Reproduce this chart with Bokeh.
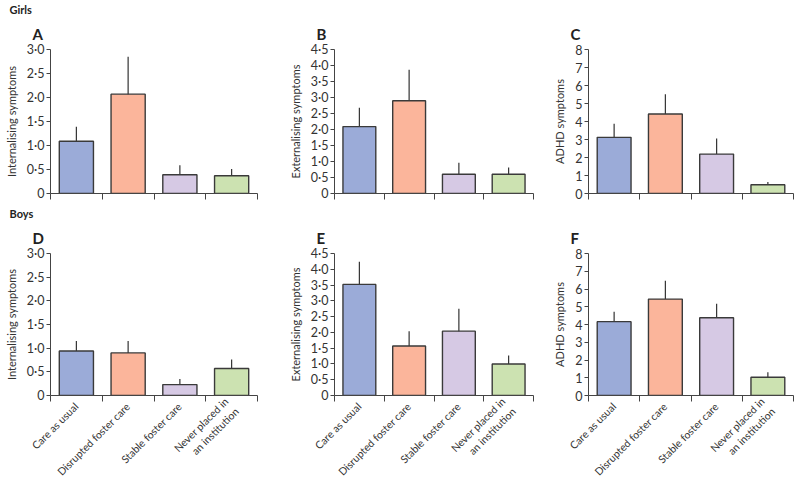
import numpy as np
from bokeh.plotting import figure
from bokeh.layouts import column, row
from bokeh.models import ColumnDataSource, Range1d, FixedTicker, Title, Whisker
from bokeh.embed import file_html
from bokeh.resources import INLINE

categories = ["Care as usual", "Disrupted foster care", "Stable foster care", "Never placed in\nan institution"]
colors = ["#9BABD8", "#FBB59B", "#D6C9E4", "#CCE2B1"]

# Girls
girls_int = [1.09, 2.07, 0.39, 0.37]
girls_int_lo = [0.79, 1.25, 0.18, 0.20]
girls_int_hi = [1.39, 2.85, 0.59, 0.51]
girls_ext = [2.09, 2.90, 0.60, 0.60]
girls_ext_lo = [1.60, 2.16, 0.30, 0.30]
girls_ext_hi = [2.68, 3.87, 0.96, 0.81]
girls_adhd = [3.12, 4.42, 2.19, 0.49]
girls_adhd_lo = [2.17, 3.14, 1.55, 0.30]
girls_adhd_hi = [3.88, 5.52, 3.06, 0.64]
# Boys
boys_int = [0.94, 0.90, 0.23, 0.57]
boys_int_lo = [0.69, 0.65, 0.10, 0.40]
boys_int_hi = [1.15, 1.15, 0.35, 0.76]
boys_ext = [3.52, 1.57, 2.04, 1.00]
boys_ext_lo = [2.75, 1.06, 1.25, 0.72]
boys_ext_hi = [4.24, 2.04, 2.75, 1.27]
boys_adhd = [4.16, 5.43, 4.38, 1.03]
boys_adhd_lo = [3.56, 4.40, 3.60, 0.71]
boys_adhd_hi = [4.72, 6.46, 5.17, 1.31]

int_ticks = [0, 0.5, 1.0, 1.5, 2.0, 2.5, 3.0]
int_labels = ["0", "0·5", "1·0", "1·5", "2·0", "2·5", "3·0"]
ext_ticks = [0, 0.5, 1.0, 1.5, 2.0, 2.5, 3.0, 3.5, 4.0, 4.5]
ext_labels = ["0", "0·5", "1·0", "1·5", "2·0", "2·5", "3·0", "3·5", "4·0", "4·5"]
adhd_ticks = [0, 1, 2, 3, 4, 5, 6, 7, 8]
adhd_labels = ["0", "1", "2", "3", "4", "5", "6", "7", "8"]

FONT = "Lato"
TXT = "#333333"


def panel(letter, ylabel, vals, lo, hi, ticks, tlabels, width, bl, br, height, bt, bb,
          show_x_labels, group=None):
    n = len(categories)
    xs = np.arange(n) + 0.5
    src = ColumnDataSource(dict(x=xs, top=vals, lo=lo, hi=hi, color=colors))
    p = figure(width=width, height=height, output_backend="svg", toolbar_location=None,
               x_range=Range1d(0, n), y_range=Range1d(0, ticks[-1]),
               min_border_left=bl, min_border_right=br, min_border_top=bt, min_border_bottom=bb,
               title=group if group is not None else letter)
    letter_kw = dict(text_font=FONT, text_font_size="15px", text_font_style="bold",
                     text_color="#222222", offset=-18, standoff=14)
    if group is not None:
        p.title.text_font = FONT
        p.title.text_font_size = "11px"
        p.title.text_font_style = "bold"
        p.title.text_color = "#222222"
        p.title.offset = -41
        p.title.standoff = 0
        p.add_layout(Title(text=letter, **letter_kw), "above")
    else:
        for k, v in letter_kw.items():
            setattr(p.title, k, v)
    p.vbar(x="x", top="top", width=0.66, bottom=0, source=src, fill_color="color",
           line_color="#3a3a3a", line_width=1.4)
    p.add_layout(Whisker(base="x", lower="lo", upper="hi", source=src, line_color="#333333",
                         line_width=1.2, upper_head=None, lower_head=None))
    p.grid.visible = False
    p.outline_line_color = None
    p.background_fill_color = "white"
    p.border_fill_color = "white"

    ya = p.yaxis[0]
    ya.ticker = FixedTicker(ticks=ticks)
    ya.major_label_overrides = {t: l for t, l in zip(ticks, tlabels)}
    ya.axis_label = ylabel
    ya.axis_label_text_font = FONT
    ya.axis_label_text_font_size = "11px"
    ya.axis_label_text_font_style = "normal"
    ya.axis_label_text_color = TXT
    ya.axis_label_standoff = 6
    ya.major_label_text_font = FONT
    ya.major_label_text_font_size = "12.5px"
    ya.major_label_text_color = TXT
    ya.major_label_standoff = 2
    ya.major_tick_out = 4
    ya.major_tick_in = 0
    ya.minor_tick_out = 0
    ya.minor_tick_in = 0
    ya.axis_line_color = "#444444"
    ya.major_tick_line_color = "#444444"

    xa = p.xaxis[0]
    xa.axis_label = None
    xa.axis_label_text_font_size = "0px"
    xa.axis_label_standoff = 0
    if show_x_labels:
        xa.ticker = FixedTicker(ticks=list(xs), minor_ticks=list(np.arange(n + 1)))
        xa.major_label_overrides = {float(x): c for x, c in zip(xs, categories)}
        xa.major_label_orientation = np.pi / 4
        xa.major_label_text_font_size = "10.5px"
        xa.major_label_standoff = 3
    else:
        xa.ticker = FixedTicker(ticks=[], minor_ticks=list(np.arange(n + 1)))
        xa.major_label_text_font_size = "0px"
        xa.major_label_standoff = 0
    xa.major_tick_out = 0
    xa.major_tick_in = 0
    xa.major_tick_line_color = None
    xa.minor_tick_out = 6
    xa.minor_tick_in = 0
    xa.minor_tick_line_color = "#444444"
    xa.axis_line_color = "#444444"
    xa.major_label_text_font = FONT
    xa.major_label_text_color = TXT
    return p


H1, BT1, BB1 = 200, 49, 7
H2, BT2, BB2 = 284, 53, 87
W1, W2, W3 = 285, 265, 250

pA = panel("A", "Internalising symptoms", girls_int, girls_int_lo, girls_int_hi, int_ticks, int_labels,
           W1, 50, 28, H1, BT1, BB1, False, group="Girls")
pB = panel("B", "Externalising symptoms", girls_ext, girls_ext_lo, girls_ext_hi, ext_ticks, ext_labels,
           W2, 42, 17, H1, BT1, BB1, False)
pC = panel("C", "ADHD symptoms", girls_adhd, girls_adhd_lo, girls_adhd_hi, adhd_ticks, adhd_labels,
           W3, 37, 7, H1, BT1, BB1, False)
pD = panel("D", "Internalising symptoms", boys_int, boys_int_lo, boys_int_hi, int_ticks, int_labels,
           W1, 50, 28, H2, BT2, BB2, True, group="Boys")
pE = panel("E", "Externalising symptoms", boys_ext, boys_ext_lo, boys_ext_hi, ext_ticks, ext_labels,
           W2, 42, 17, H2, BT2, BB2, True)
pF = panel("F", "ADHD symptoms", boys_adhd, boys_adhd_lo, boys_adhd_hi, adhd_ticks, adhd_labels,
           W3, 37, 7, H2, BT2, BB2, True)

layout = column(row(pA, pB, pC), row(pD, pE, pF))

with open("out.html", "w") as f:
    f.write(file_html(layout, INLINE))
